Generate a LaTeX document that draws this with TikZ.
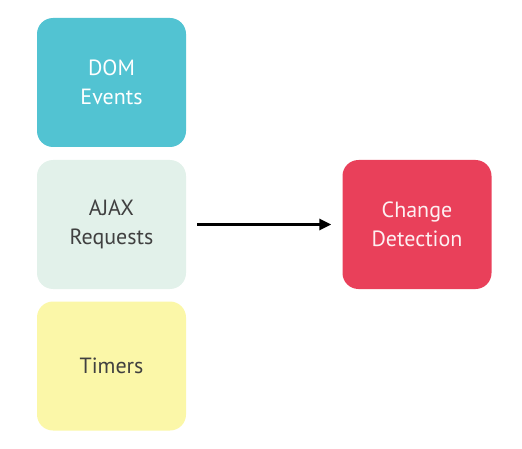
\documentclass[tikz,border=0pt]{standalone}
\usepackage{fontspec}
\setmainfont{PT Sans}
\usetikzlibrary{arrows.meta}
\definecolor{domcol}{HTML}{52C3D2}
\definecolor{ajaxcol}{HTML}{E2F1EA}
\definecolor{timercol}{HTML}{FBF7A8}
\definecolor{changecol}{HTML}{E9405A}
\definecolor{darktext}{HTML}{404040}
\tikzset{
  card/.style={minimum width=149pt, minimum height=129pt, rounded corners=16pt,
    align=center, font=\fontsize{22}{29}\selectfont, inner sep=0pt},
  flow/.style={-{Triangle[length=12pt,width=11pt]}, line width=3pt}
}
\begin{document}
\begin{tikzpicture}[x=1pt,y=1pt]
      \useasboundingbox (0,0) rectangle (522,448);
      \draw
        (111.5,365.5) node[card, fill=domcol, text=white] (dom){DOM\\Events}
        (111.5,223.5) node[card, fill=ajaxcol, text=darktext] (ajax){AJAX\\Requests}
        (111.5,82) node[card, fill=timercol, text=darktext] (timers){Timers}
        (417,223.5) node[card, fill=changecol, text=white!92!changecol] (change){Change\\Detection};
      \draw[flow] ([xshift=11pt]ajax.east) to ([xshift=-11pt]change.west);
    \end{tikzpicture}
\end{document}
